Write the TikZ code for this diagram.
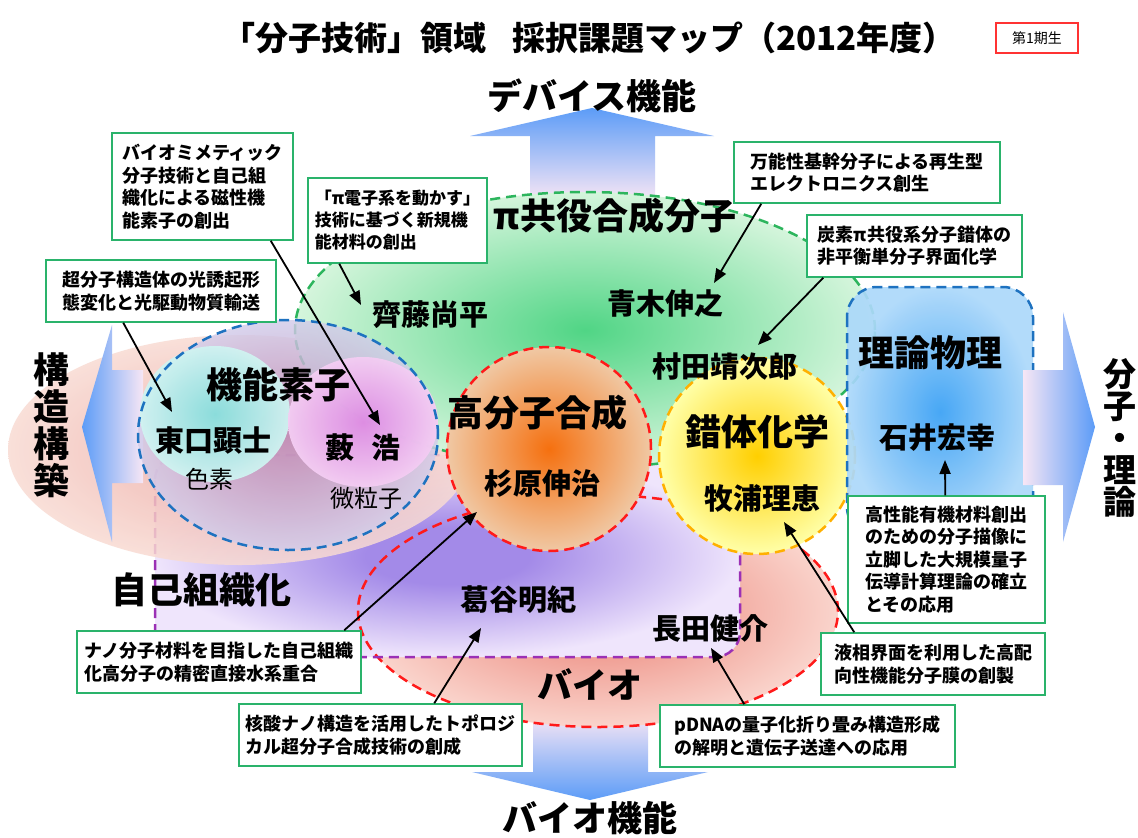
\documentclass[tikz,border=0pt]{standalone}
\usepackage{fontspec}
\setmainfont{Noto Sans CJK JP}
\usetikzlibrary{arrows.meta}

\definecolor{arrBlue}{HTML}{5C9CF7}
\definecolor{arrPink}{HTML}{F7E6F5}
\definecolor{gIn}{HTML}{50D585}
\definecolor{gOut}{HTML}{D5F5DC}
\definecolor{gLine}{HTML}{2DB55D}
\definecolor{pIn}{HTML}{A38AE8}
\definecolor{pOut}{HTML}{EFE5FC}
\definecolor{pLine}{HTML}{9B30B5}
\definecolor{bIn}{HTML}{EA7E72}
\definecolor{bOut}{HTML}{FAD4CC}
\definecolor{redLine}{HTML}{FF1A1A}
\definecolor{kIn}{HTML}{EDA49F}
\definecolor{kOut}{HTML}{F8DBD3}
\definecolor{fIn}{HTML}{BA86B7}
\definecolor{fOut}{HTML}{D2CCEA}
\definecolor{blueLine}{HTML}{1E72C0}
\definecolor{tIn}{HTML}{88DFDC}
\definecolor{tOut}{HTML}{D0F3F1}
\definecolor{mIn}{HTML}{DE8CE4}
\definecolor{mOut}{HTML}{F4CDF3}
\definecolor{oIn}{HTML}{F5700F}
\definecolor{oOut}{HTML}{F0C8A4}
\definecolor{yIn}{HTML}{FFCF00}
\definecolor{yOut}{HTML}{FFFFA8}
\definecolor{yLine}{HTML}{FFB000}
\definecolor{rIn}{HTML}{38A0F5}
\definecolor{rOut}{HTML}{ACD8FA}
\definecolor{callGreen}{HTML}{2AB36B}
\definecolor{genRed}{HTML}{FF3333}

\pgfdeclareradialshading{purpshade}{\pgfpoint{0bp}{0bp}}{color(0bp)=(pIn); color(7bp)=(pIn); color(25bp)=(pOut); color(50bp)=(pOut)}

\begin{document}
\begin{tikzpicture}[x=1pt,y=-1pt,
  dashline/.style={dash pattern=on 10pt off 6pt, line width=2.5pt},
  heading/.style={inner sep=0pt, font=\bfseries\fontsize{36}{36}\selectfont},
  person/.style={inner sep=0pt, font=\bfseries\fontsize{29}{29}\selectfont},
  subtxt/.style={inner sep=0pt, font=\fontsize{24}{24}\selectfont},
  cbox/.style={draw=callGreen, line width=1.5pt, fill=white, align=left, inner xsep=4pt, inner ysep=4pt, font=\bfseries\fontsize{18}{22.5}\selectfont},
  ptr/.style={line width=1.8pt, -{Triangle[length=14pt,width=11pt]}}
]
\useasboundingbox (0,0) rectangle (1138,838);
\fill[white] (0,0) rectangle (1138,838);

% up and down arrows (behind)
\shade[top color=arrBlue, bottom color=arrPink] (530,200) -- (530,136) -- (470,136) -- (592,108) -- (714,136) -- (655,136) -- (655,200) -- cycle;
\shade[top color=arrPink, bottom color=arrBlue] (533,715) -- (533,772) -- (472,772) -- (590,800) -- (708,772) -- (648,772) -- (648,715) -- cycle;

% bio ellipse fill, self-organisation area
\shade[inner color=bIn, outer color=bOut] (598,611) ellipse [x radius=240pt, y radius=116pt];
\shade[shading=purpshade, rounded corners=25pt] (155,455) rectangle (740,657);
\draw[redLine, dashline] (598,611) ellipse [x radius=240pt, y radius=116pt];
\draw[pLine, dashline, rounded corners=25pt] (155,455) rectangle (740,657);

% structure ellipse
\shade[inner color=kIn, outer color=kOut, fill opacity=0.85] (240,450) ellipse [x radius=232pt, y radius=115pt];

% left arrow
\shade[left color=arrBlue, right color=arrPink] (143,370) -- (112,370) -- (112,325) -- (82,427) -- (112,542) -- (112,483) -- (143,483) -- cycle;

% pi-conjugated ellipse
\shade[inner color=gIn, outer color=gOut] (585,330) ellipse [x radius=290pt, y radius=138pt];
\draw[gLine, dashline] (585,330) ellipse [x radius=290pt, y radius=138pt];

% functional element ellipse
\shade[inner color=fIn, outer color=fOut, fill opacity=0.82] (288,435) ellipse [x radius=150pt, y radius=115pt];
\shade[inner color=tIn, outer color=tOut, fill opacity=0.95] (215,414) ellipse [x radius=75pt, y radius=68pt];
\shade[inner color=mIn, outer color=mOut, fill opacity=0.95] (363,422) ellipse [x radius=75pt, y radius=65pt];
\draw[blueLine, dashline] (288,435) ellipse [x radius=150pt, y radius=115pt];

% polymer and complex circles
\shade[inner color=oIn, outer color=oOut] (549,449) circle [radius=102pt];
\draw[redLine, dashline] (549,449) circle [radius=102pt];
\shade[inner color=yIn, outer color=yOut] (757,456) circle [radius=98pt];
\draw[yLine, dashline] (757,456) circle [radius=98pt];

% theory box
\shade[inner color=rIn, outer color=rOut, rounded corners=30pt, fill opacity=0.92] (847,287) rectangle (1033,537);
\draw[blueLine, dashline, rounded corners=30pt] (847,287) rectangle (1033,537);

% right arrow
\shade[left color=arrPink, right color=arrBlue] (1023,370) -- (1063,370) -- (1063,312) -- (1095,427) -- (1063,542) -- (1063,485) -- (1023,485) -- cycle;

% titles
\node[inner sep=0pt, font=\bfseries\fontsize{33}{33}\selectfont] (title) at (589,38) {「分子技術」領域\hspace{0.8em}採択課題マップ（2012年度）};
\node[draw=genRed, line width=1.5pt, minimum width=82pt, minimum height=30pt, inner sep=0pt, font=\fontsize{14}{14}\selectfont] (gen) at (1037,38) {第1期生};
\node[inner sep=0pt, font=\bfseries\fontsize{35}{35}\selectfont] (device) at (592,96) {デバイス機能};
\node[inner sep=0pt, font=\bfseries\fontsize{35}{35}\selectfont] (biofn) at (590,818) {バイオ機能};
\node[inner sep=0pt, align=center, font=\bfseries\fontsize{36}{37}\selectfont] (struct) at (52,425) {構\\造\\構\\築};
\node[inner sep=0pt, align=center, font=\bfseries\fontsize{33}{32}\selectfont] (theory) at (1120,438) {分\\子\\・\\理\\論};

% region labels
\node[heading] (pi) at (615,216) {π共役合成分子};
\node[person] (saito) at (430,315) {齊藤尚平};
\node[person] (aoki) at (665,303) {青木伸之};
\node[heading] (kino) at (278,385) {機能素子};
\node[person] (higashi) at (213,440) {東口顕士};
\node[subtxt] (shiki) at (209,479) {色素};
\node[person] (yabu) at (363,448) {藪\hspace{0.6em}浩};
\node[subtxt] (biryu) at (366,498) {微粒子};
\node[heading] (jiko) at (201,590) {自己組織化};
\node[heading] (kobun) at (537,413) {高分子合成};
\node[person] (sugi) at (542,484) {杉原伸治};
\node[person] (murata) at (725,367) {村田靖次郎};
\node[heading] (sakutai) at (757,432) {錯体化学};
\node[person] (maki) at (762,498) {牧浦理恵};
\node[heading] (riron) at (930,353) {理論物理};
\node[person] (ishii) at (937,438) {石井宏幸};
\node[person] (kuzu) at (518,600) {葛谷明紀};
\node[person] (nagata) at (710,628) {長田健介};
\node[inner sep=0pt, font=\bfseries\fontsize{35}{35}\selectfont] (bio) at (590,684) {バイオ};

% callouts
\node[cbox, minimum width=181pt, minimum height=107pt] (b1) at (202.5,186.5) {バイオミメティック\\分子技術と自己組\\織化による磁性機\\能素子の創出};
\node[cbox, minimum width=179pt, minimum height=85pt, font=\bfseries\fontsize{17}{22}\selectfont] (b2) at (397.5,220.5) {「π電子系を動かす」\\技術に基づく新規機\\能材料の創出};
\node[cbox, minimum width=230pt, minimum height=62pt] (b3) at (161,291) {超分子構造体の光誘起形\\態変化と光駆動物質輸送};
\node[cbox, minimum width=266pt, minimum height=61pt] (b4) at (867,172.5) {万能性基幹分子による再生型\\エレクトロニクス創生};
\node[cbox, minimum width=215pt, minimum height=62pt] (b5) at (914.5,246) {炭素π共役系分子錯体の\\非平衡単分子界面化学};
\node[cbox, minimum width=197pt, minimum height=127pt] (b6) at (946.5,559.5) {高性能有機材料創出\\のための分子描像に\\立脚した大規模量子\\伝導計算理論の確立\\とその応用};
\node[cbox, minimum width=224pt, minimum height=62pt] (b7) at (933,664) {液相界面を利用した高配\\向性機能分子膜の創製};
\node[cbox, minimum width=295pt, minimum height=62pt] (b8) at (807.5,736) {pDNAの量子化折り畳み構造形成\\の解明と遺伝子送達への応用};
\node[cbox, minimum width=284pt, minimum height=62pt] (b9) at (219,662) {ナノ分子材料を目指した自己組織\\化高分子の精密直接水系重合};
\node[cbox, minimum width=283pt, minimum height=62pt] (b10) at (380.5,735) {核酸ナノ構造を活用したトポロジ\\カル超分子合成技術の創成};

% arrow tips
\coordinate (t1) at (380,425);
\coordinate (t2) at (361,305);
\coordinate (t3) at (172,412);
\coordinate (t4) at (714,283);
\coordinate (t5) at (758,345);
\coordinate (t6) at (945,460);
\coordinate (t7) at (784,522);
\coordinate (t8) at (711,648);
\coordinate (t9) at (477,512);
\coordinate (t10) at (481,628);

\draw[ptr] ([xshift=-23pt]b1.south east) -- (t1);
\draw[ptr] ([xshift=32pt]b2.south west) -- (t2);
\draw[ptr] ([xshift=78pt]b3.south west) -- (t3);
\draw[ptr] ([xshift=28pt]b4.south west) -- (t4);
\draw[ptr] ([xshift=17pt]b5.south west) -- (t5);
\draw[ptr] ([xshift=98pt]b6.north west) -- (t6);
\draw[ptr] ([xshift=34pt]b7.north west) -- (t7);
\draw[ptr] ([xshift=85pt]b8.north west) -- (t8);
\draw[ptr] ([xshift=268pt]b9.north west) -- (t9);
\draw[ptr] ([xshift=196pt]b10.north west) -- (t10);
\end{tikzpicture}
\end{document}
